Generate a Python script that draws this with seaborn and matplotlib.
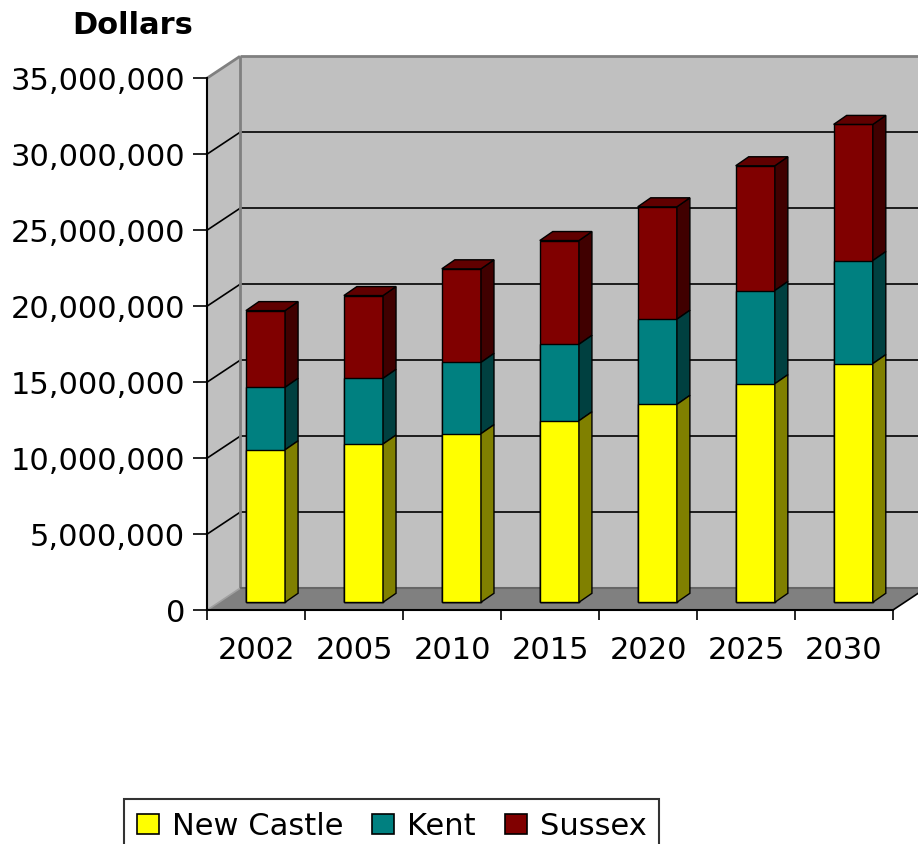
import numpy as np
import pandas as pd
import matplotlib
matplotlib.use("Agg")
import matplotlib.pyplot as plt
import matplotlib.transforms as mtrans
from matplotlib.patches import Polygon, Rectangle
from matplotlib.lines import Line2D
from matplotlib.ticker import FuncFormatter, FixedLocator
import seaborn as sns

# ---- data (dollars) ----
years = ["2002", "2005", "2010", "2015", "2020", "2025", "2030"]
new_castle = [10.03e6, 10.41e6, 11.09e6, 11.94e6, 13.02e6, 14.38e6, 15.70e6]
kent = [4.11e6, 4.32e6, 4.69e6, 5.03e6, 5.60e6, 6.13e6, 6.78e6]
sussex = [5.05e6, 5.45e6, 6.16e6, 6.83e6, 7.40e6, 8.21e6, 8.96e6]
counties = ["New Castle", "Kent", "Sussex"]
y_ticks = [0, 5e6, 10e6, 15e6, 20e6, 25e6, 30e6, 35e6]

front_colors = {"New Castle": "#FFFF00", "Kent": "#008080", "Sussex": "#800000"}
side_colors = {"New Castle": "#808000", "Kent": "#004040", "Sussex": "#400000"}
top_color = "#600000"

# cumulative heights for stacking (drawn tallest first, so lower ones overlay)
nc_arr, kent_arr, sus_arr = map(np.array, (new_castle, kent, sussex))
cum = {
    "New Castle": nc_arr,
    "Kent": nc_arr + kent_arr,
    "Sussex": nc_arr + kent_arr + sus_arr,
}
draw_order = ["Sussex", "Kent", "New Castle"]
df = pd.DataFrame(
    [(y, c, cum[c][i]) for c in draw_order for i, y in enumerate(years)],
    columns=["year", "county", "value"],
)

sns.set_theme(style="white")
plt.rcParams["font.family"] = ["DejaVu Sans"]
plt.rcParams["text.color"] = "black"
plt.rcParams["axes.labelcolor"] = "black"
plt.rcParams["xtick.color"] = "black"
plt.rcParams["ytick.color"] = "black"
FS = 22

W, H = 918, 844
fig = plt.figure(figsize=(W / 100, H / 100), dpi=100)
fig.patch.set_facecolor("white")

# front plane of the chart box (pixel geometry)
L, R, B0, T0 = 207.3, 893.0, 610.0, 78.0
ax = fig.add_axes([L / W, 1 - B0 / H, (R - L) / W, (B0 - T0) / H])
ax.patch.set_visible(False)
ax.set_zorder(1)

sns.barplot(
    data=df, x="year", y="value", hue="county", hue_order=draw_order,
    order=years, palette=front_colors, dodge=False, width=0.4,
    edgecolor="black", linewidth=1.0, saturation=1, legend=False, ax=ax, zorder=3,
)
ax.set_xlim(-0.5, len(years) - 0.5)
ax.set_ylim(0, 35e6)

# depth offsets in display pixels
WALL = np.array([32.7, 21.7])   # front plane -> back wall
BAR = np.array([9.2, 7.7])      # front plane -> bar front face
DEPTH = np.array([13.0, 9.0])   # bar front face -> bar back face

ident = mtrans.IdentityTransform()


def P(x, y, off=(0, 0)):
    return ax.transData.transform((x, y)) + np.asarray(off)


x0, x1 = ax.get_xlim()
ymax = ax.get_ylim()[1]

# back wall
wall = Polygon([P(x0, 0, WALL), P(x1, 0, WALL), P(x1, ymax, WALL), P(x0, ymax, WALL)],
               closed=True, transform=ident, facecolor="#C0C0C0", edgecolor="none",
               zorder=0.1, clip_on=False)
fig.add_artist(wall)
# side wall on the left
side = Polygon([P(x0, 0), P(x0, 0, WALL), P(x0, ymax, WALL), P(x0, ymax)],
               closed=True, transform=ident, facecolor="#C0C0C0", edgecolor="none",
               zorder=0.1, clip_on=False)
fig.add_artist(side)
# floor
floor = Polygon([P(x0, 0), P(x1, 0), P(x1, 0, WALL), P(x0, 0, WALL)],
                closed=True, transform=ident, facecolor="#808080", edgecolor="none",
                zorder=0.2, clip_on=False)
fig.add_artist(floor)

# gridlines on back wall and side wall
for v in y_ticks[1:-1]:
    a, b = P(x0, v, WALL), P(x1, v, WALL)
    fig.add_artist(Line2D([a[0], b[0]], [a[1], b[1]], transform=ident,
                          color="black", lw=1.2, zorder=0.3))
    c = P(x0, v)
    fig.add_artist(Line2D([c[0], a[0]], [c[1], a[1]], transform=ident,
                          color="black", lw=1.2, zorder=0.3))


# grey box edges
def gline(p, q, color="#808080", lw=2.0, z=0.4):
    fig.add_artist(Line2D([p[0], q[0]], [p[1], q[1]], transform=ident,
                          color=color, lw=lw, zorder=z, solid_capstyle="butt"))


gline(P(x0, ymax, WALL), P(x1, ymax, WALL))
gline(P(x0, ymax), P(x0, ymax, WALL))
gline(P(x0, 0, WALL), P(x0, ymax, WALL))
gline(P(x0, 0, WALL), P(x1, 0, WALL), color="#666666", lw=1.5)
gline(P(x0, 0), P(x0, 0, WALL), color="#A0A0A0", lw=1.2)
gline(P(x1, 0), P(x1, 0, WALL), color="black", lw=1.2, z=0.5)

# shift bar fronts into the bar plane and add side / top faces
shift = ax.transData + mtrans.Affine2D().translate(*BAR)
containers = {name: ax.containers[i] for i, name in enumerate(draw_order)}
bottoms = {"New Castle": np.zeros(len(years)), "Kent": cum["New Castle"],
           "Sussex": cum["Kent"]}
for name in draw_order:
    for i, patch in enumerate(containers[name].patches):
        patch.set_transform(shift)
        patch.set_clip_on(False)
        px, pw, ph = patch.get_x(), patch.get_width(), patch.get_height()
        yb = bottoms[name][i]
        side_face = Polygon(
            [P(px + pw, yb, BAR), P(px + pw, yb, BAR + DEPTH),
             P(px + pw, ph, BAR + DEPTH), P(px + pw, ph, BAR)],
            closed=True, transform=ident, facecolor=side_colors[name],
            edgecolor="black", lw=1.0, zorder=3, clip_on=False)
        fig.add_artist(side_face)
        if name == "Sussex":
            top_face = Polygon(
                [P(px, ph, BAR), P(px + pw, ph, BAR),
                 P(px + pw, ph, BAR + DEPTH), P(px, ph, BAR + DEPTH)],
                closed=True, transform=ident, facecolor=top_color,
                edgecolor="black", lw=1.0, zorder=3, clip_on=False)
            fig.add_artist(top_face)

# axes: spines, ticks, labels
for s in ["top", "right"]:
    ax.spines[s].set_visible(False)
for s in ["left", "bottom"]:
    ax.spines[s].set_color("black")
    ax.spines[s].set_linewidth(1.5)

ax.yaxis.set_major_locator(FixedLocator(y_ticks))
ax.yaxis.set_major_formatter(FuncFormatter(lambda v, _: f"{int(round(v)):,}"))
ax.tick_params(axis="y", which="major", direction="out", length=10, width=1.2,
               color="black", pad=6, labelsize=FS, labelcolor="black", left=True)

ax.set_xticks(np.arange(-0.5, len(years), 1.0))
ax.set_xticklabels([])
ax.set_xticks(np.arange(len(years)), labels=years, minor=True)
ax.tick_params(axis="x", which="major", direction="out", length=7.5, width=1.2,
               color="black", bottom=True)
ax.tick_params(axis="x", which="minor", length=0, pad=19, labelsize=FS,
               labelcolor="black")
ax.set_xlabel("")
ax.set_ylabel("")

fig.text(133 / W, 1 - 34 / H, "Dollars", ha="center", va="baseline",
         fontsize=FS, fontweight="bold", color="black")

handles = [Rectangle((0, 0), 1, 1, facecolor=front_colors[c], edgecolor="black",
                     lw=1.2) for c in counties]
leg = fig.legend(handles, counties, loc="upper left",
                 bbox_to_anchor=(124 / W, 1 - 799 / H), bbox_transform=fig.transFigure,
                 ncol=3, fontsize=FS, frameon=True, fancybox=False, borderaxespad=0,
                 handlelength=0.72, handleheight=0.62, handletextpad=0.42,
                 columnspacing=0.95, borderpad=0.42, labelcolor="black")
leg.get_frame().set_edgecolor("black")
leg.get_frame().set_linewidth(1.5)

fig.savefig("out.png", dpi=100)
